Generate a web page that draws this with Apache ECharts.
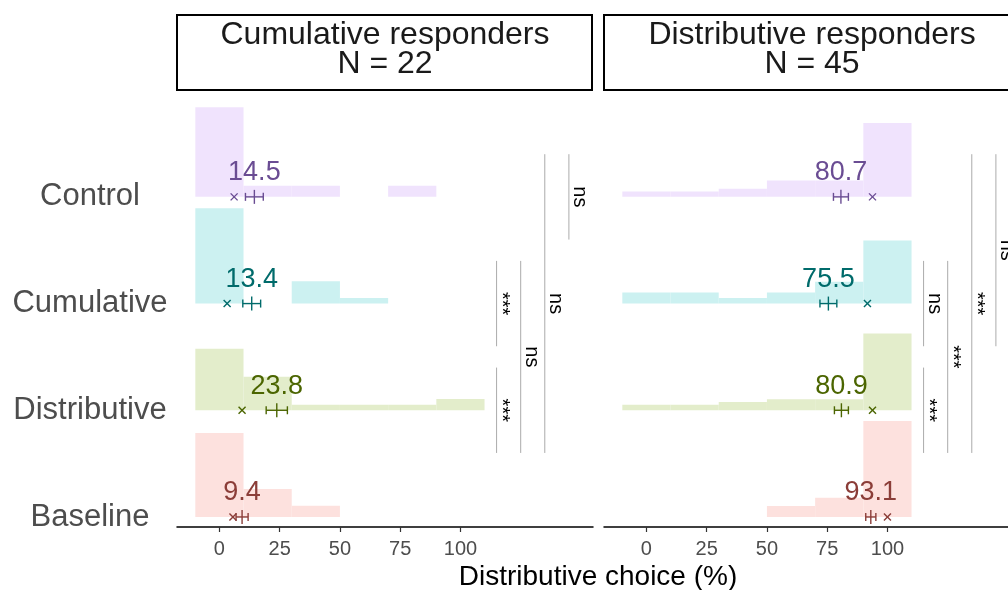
<!DOCTYPE html>
<html>
<head>
<meta charset="utf-8">
<script src="https://cdn.jsdelivr.net/npm/echarts@6/dist/echarts.min.js"></script>
<style>
  html, body { margin: 0; padding: 0; background: #fff; }
  #main { width: 1008px; height: 590px; }
</style>
</head>
<body>
<div id="main"></div>
<script>
// rows from bottom to top
const conditions = ['Baseline', 'Distributive', 'Cumulative', 'Control'];
const binEdges = [-10, 10, 30, 50, 70, 90, 110];
const panelTitles = ['Cumulative responders', 'Distributive responders'];
const panelN = [22, 45];
const xTicks = [0, 25, 50, 75, 100];

// counts per bin - cumulative responders
const cumBaseline = [15, 5, 2, 0, 0, 0];
const cumDistributive = [11, 6, 1, 1, 1, 2];
const cumCumulative = [17, 0, 4, 1, 0, 0];
const cumControl = [16, 2, 2, 0, 2, 0];
// counts per bin - distributive responders
const disBaseline = [0, 0, 0, 4, 7, 35];
const disDistributive = [2, 2, 3, 4, 4, 28];
const disCumulative = [4, 4, 2, 4, 8, 23];
const disControl = [2, 2, 3, 6, 6, 27];

// mean, standard error, median (same order as conditions)
const cumMeans = [9.4, 23.8, 13.4, 14.5];
const cumSE = [2.5, 4.4, 3.7, 3.7];
const cumMedians = [5.6, 9.4, 3.2, 6.1];
const disMeans = [93.1, 80.9, 75.5, 80.7];
const disSE = [2.1, 2.9, 3.5, 3.1];
const disMedians = [100, 93.8, 91.7, 93.8];

// significance brackets: [x, from, to, label]
const cumSig = [[115, 3.4, 2.6, '***'], [115, 2.4, 1.6, '***'], [125, 3.4, 1.6, 'ns'], [135, 4.4, 1.6, 'ns'], [145, 4.4, 3.6, 'ns']];
const disSig = [[115, 3.4, 2.6, 'ns'], [115, 2.4, 1.6, '***'], [125, 3.4, 1.6, '***'], [135, 4.4, 1.6, '***'], [145, 4.4, 2.6, 'ns']];

const fills = ['#FDE1DE', '#E3EDCB', '#CCF1F1', '#F0E3FD'];
const inks = ['#8B3D38', '#4B6500', '#006B6B', '#6A4C93'];
const FONT = '"Liberation Sans", Arial, sans-serif';
const RIDGE = 1.155; // row units for a bin holding everybody

var chart = echarts.init(document.getElementById('main'));

function histData(lists, n) {
  var out = [];
  for (var i = lists.length - 1; i >= 0; i--) {
    lists[i].forEach(function (c, b) {
      if (c > 0) out.push([binEdges[b], binEdges[b + 1], i + 1, c / n]);
    });
  }
  return out;
}

function summaryData(means, se, med) {
  return means.map(function (m, i) { return [i + 1, m, se[i], med[i]]; });
}

function renderBin(params, api) {
  var row = api.value(2);
  var p0 = api.coord([api.value(0), row]);
  var p1 = api.coord([api.value(1), row + api.value(3) * RIDGE]);
  return {
    type: 'rect',
    shape: { x: p0[0], y: p1[1], width: p1[0] - p0[0], height: p0[1] - p1[1] },
    style: { fill: fills[row - 1] }
  };
}

function renderSummary(params, api) {
  var row = api.value(0), m = api.value(1), se = api.value(2), med = api.value(3);
  var c = api.coord([m, row]);
  var lo = api.coord([m - se, row]);
  var hi = api.coord([m + se, row]);
  var md = api.coord([med, row]);
  var col = inks[row - 1];
  var st = { stroke: col, lineWidth: 1.4 };
  var y = c[1];
  function seg(x1, y1, x2, y2) {
    return { type: 'line', shape: { x1: x1, y1: y1, x2: x2, y2: y2 }, style: st };
  }
  return {
    type: 'group',
    children: [
      seg(lo[0], y, hi[0], y),
      seg(lo[0], y - 4, lo[0], y + 4),
      seg(hi[0], y - 4, hi[0], y + 4),
      seg(c[0], y - 7, c[0], y + 7),
      seg(md[0] - 3.5, y - 3.5, md[0] + 3.5, y + 3.5),
      seg(md[0] - 3.5, y + 3.5, md[0] + 3.5, y - 3.5),
      {
        type: 'text', x: c[0], y: y - 24,
        style: { text: m.toFixed(1), fill: col, font: '27px ' + FONT, align: 'center', verticalAlign: 'middle' }
      }
    ]
  };
}

function makeSig(list) {
  return function (params, api) {
    var d = list[params.dataIndex];
    var a = api.coord([d[0], d[1]]);
    var b = api.coord([d[0], d[2]]);
    var dx = d[3] === 'ns' ? 10.5 : 5;
    return {
      type: 'group',
      children: [
        { type: 'line', shape: { x1: a[0], y1: a[1], x2: b[0], y2: b[1] }, style: { stroke: '#ABABAB', lineWidth: 1 } },
        {
          type: 'text', x: a[0] + dx, y: (a[1] + b[1]) / 2, rotation: -Math.PI / 2,
          style: { text: d[3], fill: '#000', font: '20px ' + FONT, align: 'center', verticalAlign: 'middle' }
        }
      ]
    };
  };
}

function xAxisFor(idx) {
  return {
    type: 'value', gridIndex: idx, min: -17.6, max: 155,
    axisLine: { show: true, lineStyle: { color: '#000', width: 1.5 } },
    axisTick: { show: true, length: 5, customValues: xTicks, lineStyle: { color: '#333', width: 1.2 } },
    axisLabel: { show: true, customValues: xTicks, fontSize: 20, color: '#4D4D4D', fontFamily: FONT, margin: 12 },
    splitLine: { show: false }
  };
}

function yAxisFor(idx) {
  return {
    type: 'value', gridIndex: idx, min: 0.906, max: 4.936,
    axisLine: { show: false },
    axisTick: { show: false },
    splitLine: { show: false },
    axisLabel: {
      show: idx === 0,
      customValues: [1, 2, 3, 4],
      formatter: function (v) { return conditions[Math.round(v) - 1]; },
      fontSize: 31, color: '#4D4D4D', fontFamily: FONT, align: 'center', margin: 87
    }
  };
}

chart.setOption({
  backgroundColor: '#fff',
  animation: false,
  grid: [
    { left: 177, top: 97, width: 416, height: 430, outerBoundsMode: 'none', containLabel: false },
    { left: 604, top: 97, width: 416, height: 430, outerBoundsMode: 'none', containLabel: false }
  ],
  xAxis: [xAxisFor(0), xAxisFor(1)],
  yAxis: [yAxisFor(0), yAxisFor(1)],
  graphic: [
    { type: 'rect', shape: { x: 177, y: 15, width: 415, height: 75 }, style: { fill: '#fff', stroke: '#000', lineWidth: 2 } },
    { type: 'rect', shape: { x: 604, y: 15, width: 416, height: 75 }, style: { fill: '#fff', stroke: '#000', lineWidth: 2 } },
    {
      type: 'text', x: 385, y: 50,
      style: { text: panelTitles[0] + '\nN = ' + panelN[0], font: '32px ' + FONT, lineHeight: 29, fill: '#1A1A1A', align: 'center', verticalAlign: 'middle' }
    },
    {
      type: 'text', x: 812, y: 50,
      style: { text: panelTitles[1] + '\nN = ' + panelN[1], font: '32px ' + FONT, lineHeight: 29, fill: '#1A1A1A', align: 'center', verticalAlign: 'middle' }
    },
    {
      type: 'text', x: 598, y: 577,
      style: { text: 'Distributive choice (%)', font: '28px ' + FONT, fill: '#000', align: 'center', verticalAlign: 'middle' }
    }
  ],
  series: [
    {
      type: 'custom', xAxisIndex: 0, yAxisIndex: 0, renderItem: renderBin, encode: { x: [0, 1], y: 2 },
      data: histData([cumBaseline, cumDistributive, cumCumulative, cumControl], panelN[0])
    },
    {
      type: 'custom', xAxisIndex: 1, yAxisIndex: 1, renderItem: renderBin, encode: { x: [0, 1], y: 2 },
      data: histData([disBaseline, disDistributive, disCumulative, disControl], panelN[1])
    },
    {
      type: 'custom', xAxisIndex: 0, yAxisIndex: 0, renderItem: renderSummary, encode: { x: 1, y: 0 },
      data: summaryData(cumMeans, cumSE, cumMedians)
    },
    {
      type: 'custom', xAxisIndex: 1, yAxisIndex: 1, renderItem: renderSummary, encode: { x: 1, y: 0 },
      data: summaryData(disMeans, disSE, disMedians)
    },
    {
      type: 'custom', xAxisIndex: 0, yAxisIndex: 0, renderItem: makeSig(cumSig), encode: { x: 0, y: [1, 2] },
      data: cumSig.map(function (d) { return [d[0], d[1], d[2]]; })
    },
    {
      type: 'custom', xAxisIndex: 1, yAxisIndex: 1, renderItem: makeSig(disSig), encode: { x: 0, y: [1, 2] },
      data: disSig.map(function (d) { return [d[0], d[1], d[2]]; })
    }
  ]
});
</script>
</body>
</html>
